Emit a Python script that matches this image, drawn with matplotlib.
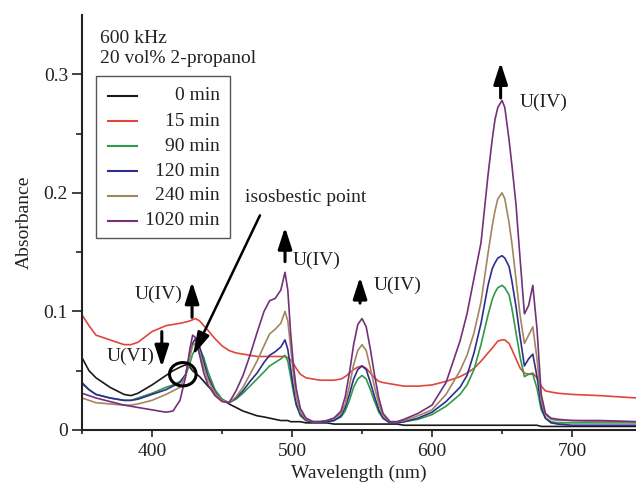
import matplotlib
matplotlib.use("Agg")
import matplotlib.pyplot as plt
from matplotlib.patches import Rectangle, Ellipse
from matplotlib.lines import Line2D

plt.rcParams['font.family'] = ['Liberation Serif', 'DejaVu Serif']

wavelength = [350, 355, 360, 370, 380, 385, 390, 400, 410, 415,
              420, 424, 427, 429, 431, 434, 437, 440, 445, 450,
              455, 460, 465, 470, 475, 480, 484, 488, 492, 495,
              497, 499, 501, 503, 506, 510, 515, 520, 525, 530,
              535, 538, 541, 544, 547, 550, 553, 556, 559, 562,
              565, 570, 575, 580, 590, 600, 610, 620, 625, 630,
              635, 640, 643, 645, 647, 650, 652, 655, 657, 660, 663, 666, 669, 672,
              675, 678, 681, 685, 690, 700, 720, 746]

abs_0 = [.061, .050, .044, .036, .030, .029, .031, .038, .046, .050,
         .053, .055, .053, .050, .048, .045, .041, .037, .031, .026,
         .022, .019, .016, .014, .012, .011, .010, .009, .008, .008,
         .008, .007, .007, .007, .007, .006, .006, .006, .006, .005,
         .005, .005, .005, .005, .005, .005, .005, .005, .005, .005,
         .005, .005, .005, .004, .004, .004, .004, .004, .004, .004,
         .004, .004, .004, .004, .004, .004, .004, .004, .004, .004, .004, .004, .004, .004,
         .004, .003, .003, .003, .003, .003, .003, .003]

abs_15 = [.097, .088, .080, .076, .072, .072, .074, .083, .088, .089,
          .090, .091, .092, .093, .094, .092, .088, .084, .077, .071,
          .067, .065, .064, .063, .062, .062, .062, .062, .062, .062,
          .061, .059, .056, .052, .047, .044, .043, .042, .042, .042,
          .043, .045, .048, .051, .053, .054, .052, .048, .044, .041,
          .040, .039, .038, .037, .037, .038, .041, .045, .048, .052,
          .058, .065, .069, .072, .075, .076, .076, .073, .068, .060, .052, .048, .047, .048,
          .044, .037, .033, .032, .031, .030, .029, .027]

abs_90 = [.039, .034, .030, .027, .025, .025, .027, .031, .036, .038,
          .041, .046, .056, .064, .068, .069, .061, .049, .034, .026,
          .023, .026, .031, .037, .043, .049, .054, .057, .060, .063,
          .058, .045, .032, .021, .012, .008, .007, .007, .007, .008,
          .011, .016, .025, .036, .043, .046, .043, .034, .024, .015,
          .010, .006, .006, .007, .009, .013, .020, .030, .038, .051,
          .072, .097, .110, .116, .120, .122, .120, .114, .103, .082, .061, .045, .047, .047,
          .035, .017, .010, .007, .006, .006, .006, .006]

abs_120 = [.040, .034, .030, .027, .025, .025, .026, .030, .034, .037,
           .040, .047, .063, .073, .077, .070, .057, .045, .032, .025,
           .023, .027, .033, .041, .048, .057, .063, .066, .070, .076,
           .068, .052, .036, .022, .013, .008, .007, .007, .007, .008,
           .012, .019, .030, .043, .051, .054, .051, .040, .028, .017,
           .010, .006, .006, .007, .010, .015, .024, .036, .046, .065,
           .090, .122, .136, .141, .145, .147, .145, .138, .126, .104, .078, .054, .060, .064,
           .045, .020, .010, .006, .005, .004, .004, .004]

abs_240 = [.027, .025, .023, .022, .021, .021, .022, .025, .030, .033,
           .036, .046, .062, .071, .073, .066, .053, .042, .031, .025,
           .023, .028, .036, .047, .058, .071, .081, .085, .090, .100,
           .092, .070, .047, .028, .015, .009, .007, .007, .008, .010,
           .014, .022, .037, .055, .067, .072, .067, .052, .036, .022,
           .012, .007, .007, .008, .012, .017, .030, .050, .063, .082,
           .108, .149, .172, .185, .195, .200, .195, .175, .158, .127, .096, .073, .080, .087,
           .060, .025, .013, .009, .008, .008, .007, .007]

abs_1020 = [.031, .029, .027, .024, .021, .020, .019, .017, .015, .016,
            .025, .045, .068, .080, .078, .063, .048, .038, .029, .024,
            .023, .033, .046, .063, .082, .100, .109, .111, .118, .133,
            .118, .082, .055, .035, .018, .010, .007, .007, .008, .010,
            .016, .028, .048, .072, .089, .094, .087, .068, .046, .027,
            .014, .007, .007, .009, .014, .021, .040, .075, .098, .128,
            .158, .215, .245, .262, .272, .278, .272, .245, .224, .190, .143, .098, .105, .122,
            .085, .030, .014, .010, .009, .008, .008, .007]

labels = ['0 min', '15 min', '90 min', '120 min', '240 min', '1020 min']
series = [abs_0, abs_15, abs_90, abs_120, abs_240, abs_1020]
colors = ['#1a1a1a', '#e0463c', '#2f9a48', '#2e2e8c', '#a38562', '#74307a']

fig = plt.figure(figsize=(6.36, 4.83), dpi=100)
ax = fig.add_axes([82/636, 1 - 430/483, 554/636, 415/483])

for y, c in zip(series, colors):
    ax.plot(wavelength, y, color=c, lw=1.2, solid_joinstyle='round')

ax.set_xlim(350, 745.7)
ax.set_ylim(0, 0.35)
ax.set_xticks([400, 500, 600, 700])
ax.set_xticks([350, 450, 550, 650], minor=True)
ax.set_yticks([0, 0.1, 0.2, 0.3])
ax.set_yticklabels(['0', '0.1', '0.2', '0.3'])
ax.set_yticks([0.05, 0.15, 0.25], minor=True)
for s in ['top', 'right']:
    ax.spines[s].set_visible(False)
for s in ['left', 'bottom']:
    ax.spines[s].set_linewidth(1.5)
    ax.spines[s].set_color('#222222')
ax.tick_params(axis='y', which='major', direction='out', length=7, width=1.2,
               labelsize=14, colors='#222222', pad=3)
ax.tick_params(axis='y', which='minor', direction='out', length=4, width=1.2,
               colors='#222222')
ax.tick_params(axis='x', which='major', direction='out', length=5, width=1.2,
               labelsize=14, colors='#222222', pad=4)
ax.tick_params(axis='x', which='minor', direction='out', length=3, width=1.2,
               colors='#222222')
ax.set_xlabel('Wavelength (nm)', fontsize=14, color='#222222', labelpad=4)
ax.set_ylabel('Absorbance', fontsize=14, color='#222222', labelpad=8)

# header text
ax.text(362.9, 0.330, '600 kHz', fontsize=14, va='center', ha='left', color='#222222')
ax.text(362.9, 0.313, '20 vol% 2-propanol', fontsize=14, va='center', ha='left', color='#222222')

# manual legend (labels right-aligned)
ax.add_patch(Rectangle((0.0253, 0.4627), 0.2417, 0.3903, transform=ax.transAxes,
                       facecolor='white', edgecolor='#555555', lw=1.0, zorder=5))
rows = [0.805, 0.744, 0.684, 0.624, 0.564, 0.504]
for lab, c, ry in zip(labels, colors, rows):
    ax.add_line(Line2D([0.047, 0.099], [ry, ry], transform=ax.transAxes,
                       color=c, lw=1.5, zorder=6))
    ax.text(0.249, ry, lab, transform=ax.transAxes, fontsize=14, ha='right',
            va='center', color='#222222', zorder=6)

def up_arrow(x, y0, y1, lw=2.2):
    ax.annotate('', xy=(x, y1), xytext=(x, y0),
                arrowprops=dict(arrowstyle='-|>,head_length=1.3,head_width=0.42',
                                mutation_scale=10, lw=lw, color='black',
                                shrinkA=0, shrinkB=0))

up_arrow(649, 0.280, 0.310)
ax.text(662.9, 0.276, 'U(IV)', fontsize=14, va='center', ha='left', color='#222222')
up_arrow(495, 0.142, 0.171)
ax.text(500.7, 0.143, 'U(IV)', fontsize=14, va='center', ha='left', color='#222222')
up_arrow(548.6, 0.107, 0.129)
ax.text(558, 0.122, 'U(IV)', fontsize=14, va='center', ha='left', color='#222222')
up_arrow(428.6, 0.095, 0.125)
ax.text(422, 0.114, 'U(IV)', fontsize=14, va='center', ha='right', color='#222222')
up_arrow(407, 0.083, 0.053)
ax.text(401.5, 0.062, 'U(VI)', fontsize=14, va='center', ha='right', color='#222222')

ax.add_patch(Ellipse((422, 0.047), 19, 0.0197, facecolor='none',
                     edgecolor='black', lw=2.2, zorder=7))
ax.annotate('', xy=(429.3, 0.063), xytext=(477.1, 0.181),
            arrowprops=dict(arrowstyle='-|>,head_length=1.4,head_width=0.38',
                            mutation_scale=10, lw=1.8, color='black',
                            shrinkA=0, shrinkB=0))
ax.text(510, 0.196, 'isosbestic point', fontsize=14, va='center', ha='center',
        color='#222222')

fig.savefig('out.png', dpi=100)
